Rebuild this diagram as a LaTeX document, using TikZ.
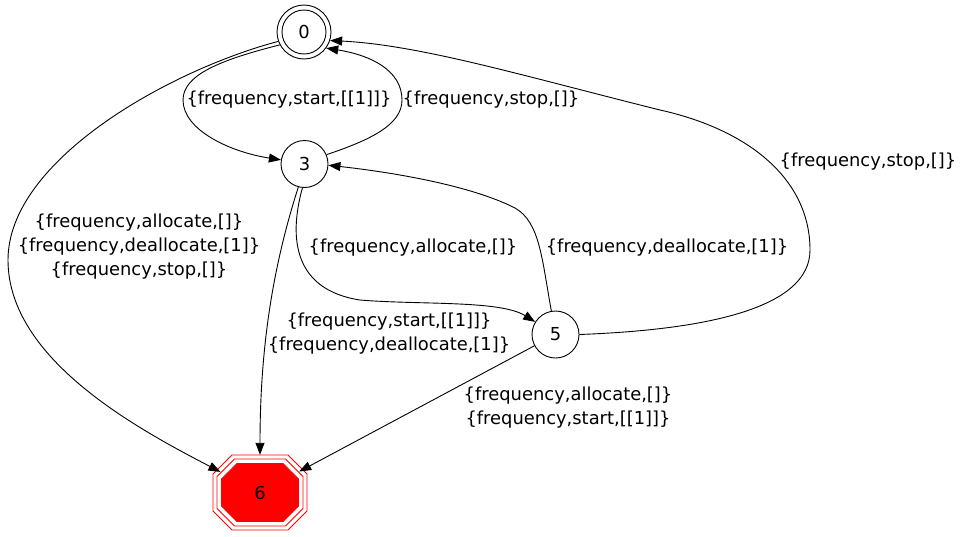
\documentclass[tikz,border=0pt]{standalone}
\usepackage{fontspec}
\setmainfont{DejaVu Sans}
\usetikzlibrary{arrows.meta,shapes.geometric}
\definecolor{fsmRed}{RGB}{255,0,0}

% octagon outline, half width #1, half height #2, corner cut #3
\newcommand{\octring}[3]{(-#1+#3,-#2) -- (#1-#3,-#2) -- (#1,-#2+#3) -- (#1,#2-#3) -- (#1-#3,#2) -- (-#1+#3,#2) -- (-#1,#2-#3) -- (-#1,-#2+#3) -- cycle}

\begin{document}
\begin{tikzpicture}[x=1pt, y=-1pt, font=\fontsize{17.9}{24}\selectfont]
            % Styles
            \tikzstyle{state} = [circle, draw, line width=0.9pt, minimum size=47pt, inner sep=0pt]
            \tikzstyle{accept} = [circle, draw, line width=0.9pt, minimum size=44pt, inner sep=0pt]
            \tikzstyle{trap} = [ellipse, minimum width=94pt, minimum height=75pt, inner sep=0pt]
            \tikzstyle{edgelbl} = [align=center, inner sep=0pt]
            \tikzstyle{arrow} = [-{Triangle[length=12pt,width=9pt]}, line width=0.9pt]

            \useasboundingbox (0,0) rectangle (966,536);

            % Trap state outlines (triple octagon)
            \begin{scope}[shift={(260,492.5)}, draw=fsmRed, line width=0.9pt]
                \draw \octring{47}{37.5}{19};
                \draw \octring{43}{33.5}{17.5};
                \filldraw[fill=fsmRed] \octring{38.5}{29}{15.5};
            \end{scope}

            % Nodes - explicit coordinates
            \node[state, minimum size=54pt] (s0) at (304,32) {};
            \node[accept] (s0in) at (304,32) {0};
            \node[state] (s3) at (304.5,164) {3};
            \node[state] (s5) at (555.5,334.5) {5};
            \node[trap] (s6) at (260,492.5) {6};

            % Labels
            \node[edgelbl] (l03) at (289,100) {\{frequency,start,[[1]]\}};
            \node[edgelbl] (l30) at (491,100) {\{frequency,stop,[]\}};
            \node[edgelbl] (l06) at (139,247) {\{frequency,allocate,[]\}\\\{frequency,deallocate,[1]\}\\\{frequency,stop,[]\}};
            \node[edgelbl] (l35) at (413,248) {\{frequency,allocate,[]\}};
            \node[edgelbl] (l53) at (667,248) {\{frequency,deallocate,[1]\}};
            \node[edgelbl] (l50) at (868,162) {\{frequency,stop,[]\}};
            \node[edgelbl] (l36) at (389,334) {\{frequency,start,[[1]]\}\\\{frequency,deallocate,[1]\}};
            \node[edgelbl] (l56) at (568,408) {\{frequency,allocate,[]\}\\\{frequency,start,[[1]]\}};

            % Arrows
            \draw[arrow] (s0.208) .. controls (220,60) and (183,75) .. (183,100) .. controls (183,130) and (230,152) .. (s3.170);
            \draw[arrow] (s3.23) .. controls (370,140) and (402,125) .. (402,100) .. controls (402,70) and (370,55) .. (s0.-36);
            \draw[arrow] (s0.200) .. controls (170,70) and (8,160) .. (8,260) .. controls (8,360) and (140,430) .. (s6);
            \draw[arrow] (s3.-105) .. controls (275,260) and (260,340) .. (s6);
            \draw[arrow] (s3.-95) .. controls (288,240) and (295,290) .. (360,300) .. controls (420,305) and (500,300) .. (s5);
            \draw[arrow] (s5.100) .. controls (542,260) and (540,222) .. (515,208) .. controls (470,185) and (390,172) .. (s3.-3);
            \draw[arrow] (s5.east) .. controls (700,330) and (810,310) .. (810,250) .. controls (810,180) and (750,130) .. (660,110) .. controls (520,75) and (420,45) .. (s0.-18);
            \draw[arrow] (s5) -- (s6);
        \end{tikzpicture}
\end{document}
